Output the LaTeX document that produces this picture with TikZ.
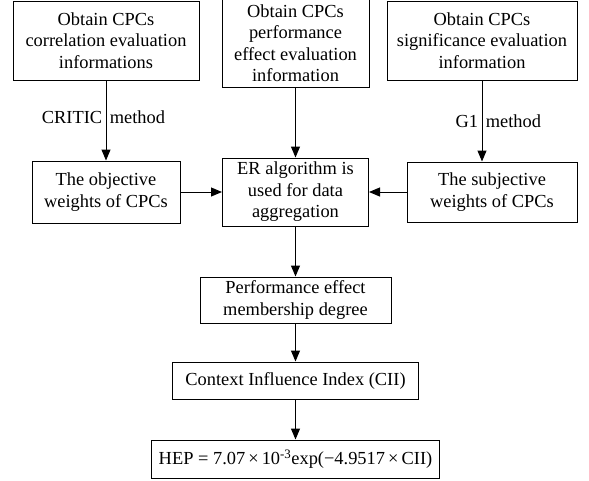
\documentclass[tikz,border=0pt]{standalone}
\usepackage{fontspec}
\setmainfont{Liberation Serif}
\usetikzlibrary{arrows.meta}

\begin{document}
\begin{tikzpicture}[x=1pt, y=-1pt,
        box/.style={draw, line width=1pt, align=center, inner sep=2pt,
            font=\fontsize{18.4}{21.5}\selectfont},
        lbl/.style={font=\fontsize{18.4}{21.5}\selectfont},
        flow/.style={-{Triangle[length=11pt,width=9pt]}, line width=1pt}]
        \useasboundingbox (0,0) rectangle (589,480);

        % Draw the three evaluation information boxes
        \node[box, minimum width=186pt, minimum height=79pt] (corr) at (106,40.5)
            {Obtain CPCs\\correlation evaluation\\informations};
        \node[box, minimum width=147pt, minimum height=88pt] (perf) at (295.5,43)
            {Obtain CPCs\\performance\\effect evaluation\\information};
        \node[box, minimum width=190pt, minimum height=79pt] (sig) at (482,40.5)
            {Obtain CPCs\\significance evaluation\\information};

        % Weights and aggregation
        \node[box, minimum width=148pt, minimum height=62pt] (obj) at (106,192)
            {The objective\\weights of CPCs};
        \node[box, minimum width=146pt, minimum height=68pt] (er) at (295.5,192)
            {ER algorithm is\\used for data\\aggregation};
        \node[box, minimum width=170pt, minimum height=60pt] (subj) at (492,192)
            {The subjective\\weights of CPCs};

        % Results
        \node[box, minimum width=191pt, minimum height=46pt] (memb) at (295.5,300)
            {Performance effect\\membership degree};
        \node[box, minimum width=246pt, minimum height=37pt] (cii) at (295.5,380.5)
            {Context Influence Index (CII)};
        \node[box, minimum width=288pt, minimum height=38pt] (hep) at (295.5,459)
            {HEP = 7.07\,×\,10\textsuperscript{-3}exp(−4.9517\,×\,CII)};

        % Draw the arrows
        \draw[flow] (corr) -- (obj)
            node[lbl, pos=0.46, left] {CRITIC}
            node[lbl, pos=0.46, right] {method};
        \draw[flow] (sig.south) -- (sig.south |- subj.north)
            node[lbl, pos=0.5, left] {G1}
            node[lbl, pos=0.5, right] {method};
        \draw[flow] (perf) -- (er);
        \draw[flow] (obj) -- (er);
        \draw[flow] (subj) -- (er);
        \draw[flow] (er) -- (memb);
        \draw[flow] (memb) -- (cii);
        \draw[flow] (cii) -- (hep);
\end{tikzpicture}
\end{document}
